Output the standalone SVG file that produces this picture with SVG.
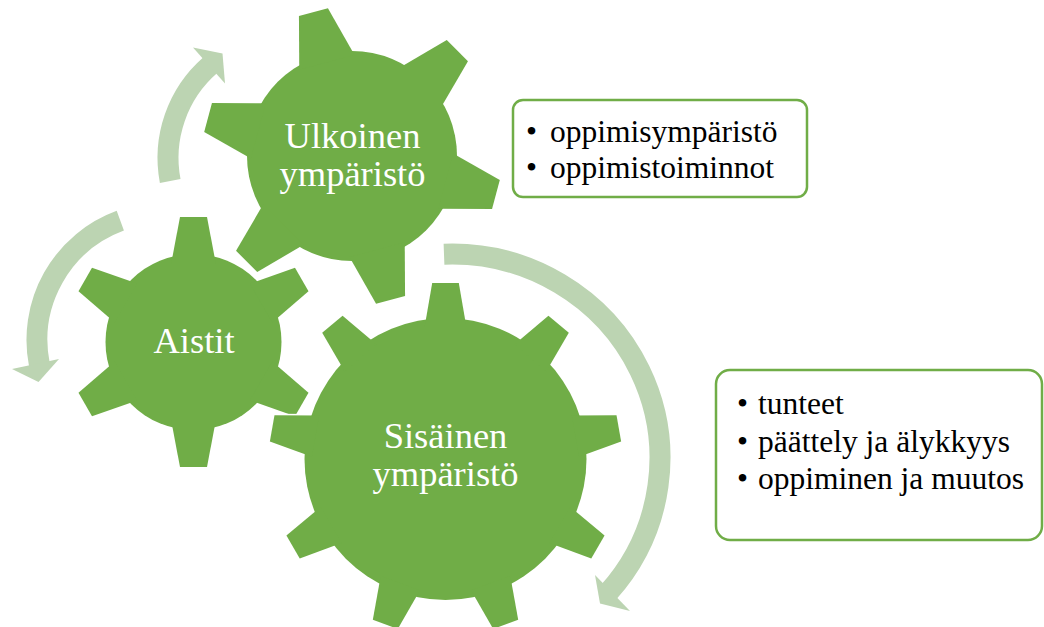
<svg xmlns="http://www.w3.org/2000/svg" xmlns:xlink="http://www.w3.org/1999/xlink" width="1044" height="627" viewBox="0 0 1044 627">
<style>
.bg { fill:#ffffff; }
.arc { fill:none; stroke:#BCD4B2; stroke-width:21; stroke-linecap:butt; }
.head { fill:#BCD4B2; }
.outline { fill:#ffffff; stroke:#ffffff; stroke-width:3; stroke-linejoin:round; }
.gear { fill:#70AD47; }
.gear-label { font-size:36.5px; fill:#ffffff; text-anchor:middle; }
.box { fill:#ffffff; stroke:#70AD47; stroke-width:2.5; }
.box-text { font-size:31.5px; fill:#000000; }
</style>
<defs>
  <polygon id="toothA" points="-22.4,-78 -13.5,-125 13.5,-125 22.4,-78"/>
  <polygon id="toothU" points="-28.6,-97 -15,-149 15,-149 28.6,-97"/>
  <polygon id="toothS" points="-20.9,-132 -13.3,-176 13.3,-176 20.9,-132"/>
  <g id="shapeA">
    <circle r="88"/>
    <use xlink:href="#toothA" href="#toothA"/>
    <use xlink:href="#toothA" href="#toothA" transform="rotate(60)"/>
    <use xlink:href="#toothA" href="#toothA" transform="rotate(120)"/>
    <use xlink:href="#toothA" href="#toothA" transform="rotate(180)"/>
    <use xlink:href="#toothA" href="#toothA" transform="rotate(240)"/>
    <use xlink:href="#toothA" href="#toothA" transform="rotate(300)"/>
  </g>
  <g id="shapeU">
    <circle r="105"/>
    <use xlink:href="#toothU" href="#toothU" transform="rotate(-15)"/>
    <use xlink:href="#toothU" href="#toothU" transform="rotate(45)"/>
    <use xlink:href="#toothU" href="#toothU" transform="rotate(105)"/>
    <use xlink:href="#toothU" href="#toothU" transform="rotate(165)"/>
    <use xlink:href="#toothU" href="#toothU" transform="rotate(225)"/>
    <use xlink:href="#toothU" href="#toothU" transform="rotate(285)"/>
  </g>
  <g id="shapeS">
    <circle r="141"/>
    <use xlink:href="#toothS" href="#toothS"/>
    <use xlink:href="#toothS" href="#toothS" transform="rotate(40)"/>
    <use xlink:href="#toothS" href="#toothS" transform="rotate(80)"/>
    <use xlink:href="#toothS" href="#toothS" transform="rotate(120)"/>
    <use xlink:href="#toothS" href="#toothS" transform="rotate(160)"/>
    <use xlink:href="#toothS" href="#toothS" transform="rotate(200)"/>
    <use xlink:href="#toothS" href="#toothS" transform="rotate(240)"/>
    <use xlink:href="#toothS" href="#toothS" transform="rotate(280)"/>
    <use xlink:href="#toothS" href="#toothS" transform="rotate(320)"/>
  </g>
</defs>
<rect class="bg" x="0" y="0" width="1044" height="627"/>

<g id="connectors">
  <g id="arrow-aistit-to-ulkoinen">
    <path class="arc" d="M170.2,181 A123,123 0 0,1 210.3,65.2"/>
    <polygon class="head" points="193,47.5 222.5,53.5 225,83.5"/>
  </g>
  <g id="arrow-top-to-aistit">
    <path class="arc" d="M120.3,220.7 A127,127 0 0,0 39.4,364.7"/>
    <polygon class="head" points="12,369 38.5,382 59,359"/>
  </g>
  <g id="arrow-ulkoinen-to-sisainen">
    <path class="arc" d="M444,254.2 A208,204 0 0,1 608.3,592.6"/>
    <polygon class="head" points="595,575 600,603.5 630,611"/>
  </g>
</g>

<g id="node-aistit">
  <use xlink:href="#shapeA" href="#shapeA" class="outline" transform="translate(193.5,342)"/>
  <use xlink:href="#shapeA" href="#shapeA" class="gear" transform="translate(193.5,342)"/>
  <text class="gear-label" font-family="Liberation Serif, Times New Roman, serif" x="194" y="353">Aistit</text>
</g>

<g id="node-ulkoinen">
  <use xlink:href="#shapeU" href="#shapeU" class="outline" transform="translate(352,156)"/>
  <use xlink:href="#shapeU" href="#shapeU" class="gear" transform="translate(352,156)"/>
  <text class="gear-label" font-family="Liberation Serif, Times New Roman, serif" x="352.5" y="148">Ulkoinen</text>
  <text class="gear-label" font-family="Liberation Serif, Times New Roman, serif" x="352.5" y="185.5">ympäristö</text>
</g>

<g id="node-sisainen">
  <use xlink:href="#shapeS" href="#shapeS" class="outline" transform="translate(445.5,459)"/>
  <use xlink:href="#shapeS" href="#shapeS" class="gear" transform="translate(445.5,459)"/>
  <text class="gear-label" font-family="Liberation Serif, Times New Roman, serif" x="445.5" y="447.5">Sisäinen</text>
  <text class="gear-label" font-family="Liberation Serif, Times New Roman, serif" x="445.5" y="485.5">ympäristö</text>
</g>

<g id="node-ulkoinen-list">
  <rect class="box" x="513" y="100" width="294" height="97" rx="10" ry="10"/>
  <text class="box-text" font-family="Liberation Serif, Times New Roman, serif" y="142"><tspan x="526">•</tspan><tspan x="550">oppimisympäristö</tspan></text>
  <text class="box-text" font-family="Liberation Serif, Times New Roman, serif" y="177.5"><tspan x="526">•</tspan><tspan x="550">oppimistoiminnot</tspan></text>
</g>

<g id="node-sisainen-list">
  <rect class="box" x="716" y="370" width="326" height="170" rx="14" ry="14"/>
  <text class="box-text" font-family="Liberation Serif, Times New Roman, serif" y="414"><tspan x="737">•</tspan><tspan x="758">tunteet</tspan></text>
  <text class="box-text" font-family="Liberation Serif, Times New Roman, serif" y="451.5"><tspan x="737">•</tspan><tspan x="758">päättely ja älykkyys</tspan></text>
  <text class="box-text" font-family="Liberation Serif, Times New Roman, serif" y="489"><tspan x="737">•</tspan><tspan x="758">oppiminen ja muutos</tspan></text>
</g>
</svg>
